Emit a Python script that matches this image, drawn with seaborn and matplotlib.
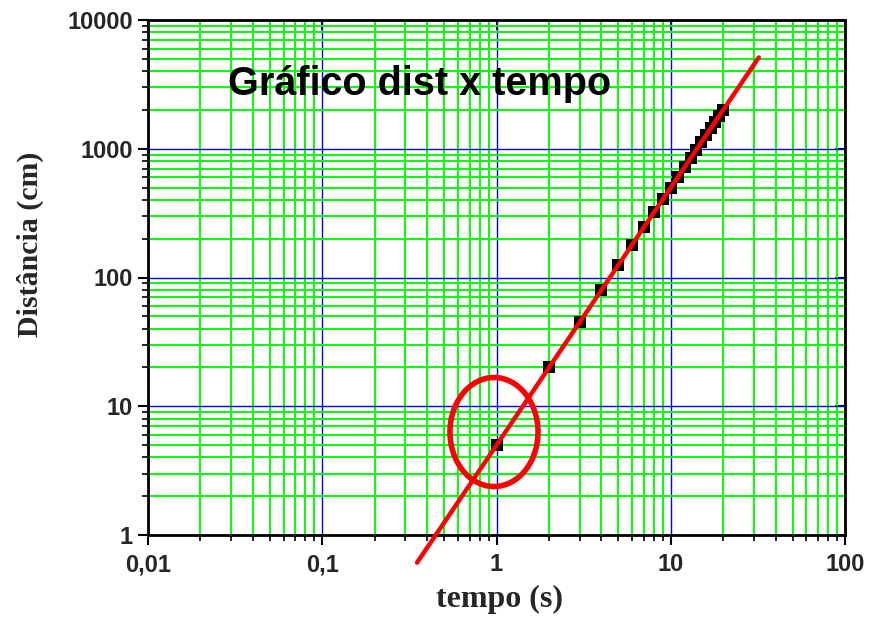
import matplotlib
matplotlib.use("Agg")
import matplotlib.pyplot as plt
import matplotlib.ticker as mticker
from matplotlib.patches import Ellipse
import numpy as np
import pandas as pd
import seaborn as sns

# data
tempo = [1, 2, 3, 4, 5, 6, 7, 8, 9, 10, 11, 12, 13, 14, 15, 16, 17, 18, 19, 20]
distancia = [5, 20, 45, 80, 125, 180, 245, 320, 405, 500, 605, 720, 845, 980,
             1125, 1280, 1445, 1620, 1805, 2000]
fit_tempo = [0.35, 32]
fit_dist = [0.61, 5120]
x_ticks = [0.01, 0.1, 1, 10, 100]
x_ticklabels = ["0,01", "0,1", "1", "10", "100"]
y_ticks = [1, 10, 100, 1000, 10000]
y_ticklabels = ["1", "10", "100", "1000", "10000"]

sns.set_style("white")
plt.rcParams['font.family'] = ['Liberation Sans', 'DejaVu Sans']

fig = plt.figure(figsize=(8.75, 6.17), dpi=100)
ax = fig.add_axes([148/875, 1-535/617, 697/875, 515/617])
ax.set_xscale("log")
ax.set_yscale("log")
ax.set_xlim(0.01, 100)
ax.set_ylim(1, 10000)

# grids
ax.xaxis.set_minor_locator(mticker.LogLocator(base=10, subs=np.arange(2, 10)))
ax.yaxis.set_minor_locator(mticker.LogLocator(base=10, subs=np.arange(2, 10)))
ax.xaxis.set_minor_formatter(mticker.NullFormatter())
ax.yaxis.set_minor_formatter(mticker.NullFormatter())
ax.grid(True, which="minor", color="#00ff00", linewidth=1.4, zorder=0)
ax.grid(True, which="major", color="#0000ff", linewidth=1.0, zorder=0)
ax.set_axisbelow(True)

df = pd.DataFrame({"tempo": tempo, "dist": distancia})
fit = pd.DataFrame({"tempo": fit_tempo, "dist": fit_dist})
sns.scatterplot(data=df, x="tempo", y="dist", marker="s", s=70, color="black",
                edgecolor="black", linewidth=0, ax=ax, zorder=3)
sns.lineplot(data=fit, x="tempo", y="dist", color="#ff0000", linewidth=3.2,
             ax=ax, zorder=4)
for ln in ax.get_lines():
    ln.set_clip_on(False)

ell = Ellipse((0.4964, 0.2), 0.1263, 0.2117, transform=ax.transAxes,
              fill=False, edgecolor="#ff0000", linewidth=4, zorder=5, clip_on=False)
ax.add_patch(ell)

ax.set_xticks(x_ticks)
ax.set_xticklabels(x_ticklabels)
ax.set_yticks(y_ticks)
ax.set_yticklabels(y_ticklabels)
ax.tick_params(axis="both", which="both", bottom=True, left=True, top=False, right=False)
ax.tick_params(axis="both", which="major", labelsize=17, width=1.5, length=7,
               color="black", direction="out")
ax.tick_params(axis="both", which="minor", width=1.2, length=4, color="black",
               direction="out")
for lab in ax.get_xticklabels() + ax.get_yticklabels():
    lab.set_fontweight("bold")
ax.tick_params(axis="x", pad=6)
ax.tick_params(axis="y", pad=4)

# inward ticks on top/right
axt = ax.secondary_xaxis("top")
axt.set_xticks(x_ticks)
axt.xaxis.set_minor_locator(mticker.LogLocator(base=10, subs=np.arange(2, 10)))
axt.xaxis.set_minor_formatter(mticker.NullFormatter())
axt.tick_params(which="both", top=True, labeltop=False)
axt.tick_params(which="major", direction="in", length=7, width=1.5, color="black")
axt.tick_params(which="minor", direction="in", length=4, width=1.2, color="black")
axt.set_xticklabels([])
axr = ax.secondary_yaxis("right")
axr.set_yticks(y_ticks)
axr.yaxis.set_minor_locator(mticker.LogLocator(base=10, subs=np.arange(2, 10)))
axr.yaxis.set_minor_formatter(mticker.NullFormatter())
axr.tick_params(which="both", right=True, labelright=False)
axr.tick_params(which="major", direction="in", length=7, width=1.5, color="black")
axr.tick_params(which="minor", direction="in", length=4, width=1.2, color="black")
axr.set_yticklabels([])
for a in (axt, axr):
    for sp in a.spines.values():
        sp.set_visible(False)

for sp in ax.spines.values():
    sp.set_visible(True)
    sp.set_color("black")
    sp.set_linewidth(2)

xl = ax.set_xlabel("tempo (s)", fontsize=23, fontweight="bold",
                   fontfamily=["Liberation Serif", "DejaVu Serif"])
yl = ax.set_ylabel("Distância (cm)", fontsize=21.5, fontweight="bold",
                   fontfamily=["Liberation Serif", "DejaVu Serif"])
ax.xaxis.set_label_coords(0.505, -0.126)
ax.yaxis.set_label_coords(-0.169, 0.565)
xl.set_va("center")
yl.set_va("center")

ax.text(0.115, 0.875, "Gráfico dist x tempo", transform=ax.transAxes,
        fontsize=28.5, fontweight="bold", ha="left", va="center", color="black")

fig.savefig("out.png", dpi=100)
